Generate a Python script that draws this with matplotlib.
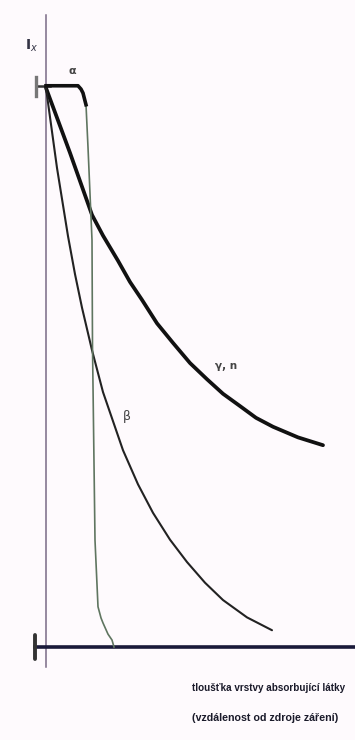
import matplotlib
matplotlib.use("Agg")
from matplotlib import pyplot as plt

# values (x = layer thickness, y = relative intensity I/I0)
alpha_x = [0, 32, 35, 37, 40, 42, 46, 46.5, 49, 52, 55, 57, 62, 66, 68]
alpha_y = [1.004, 1.004, 0.998, 0.991, 0.970, 0.894, 0.728, 0.537, 0.191, 0.072,
           0.052, 0.043, 0.023, 0.0125, 0.0]

beta_x = [0, 11, 22, 29, 36, 46, 57, 77, 92, 107, 124, 141, 159, 177, 201, 226]
beta_y = [1.0, 0.857, 0.735, 0.667, 0.607, 0.531, 0.456, 0.352, 0.291, 0.240,
          0.192, 0.152, 0.115, 0.084, 0.053, 0.030]

gamma_x = [0, 24, 46, 57, 72, 84, 96, 111, 127, 144, 161, 177, 194, 210, 227, 252, 277]
gamma_y = [1.0, 0.884, 0.773, 0.736, 0.691, 0.653, 0.621, 0.579, 0.544, 0.508,
           0.479, 0.453, 0.431, 0.410, 0.394, 0.375, 0.361]

W, H = 355, 740
fig = plt.figure(figsize=(W / 100, H / 100), dpi=100)
fig.patch.set_facecolor('#fefafd')
ax = fig.add_axes([46 / W, 93 / H, 309 / W, 559 / H])
ax.set_facecolor('none')
ax.set_xlim(0, 309)
ax.set_ylim(0, 1)
ax.axis('off')

# axes drawn by hand like in the sketch
ax.plot([0, 0], [-0.036, 1.13], color='#7a6a86', lw=1.1, clip_on=False)
ax.plot([-11, 309], [0, 0], color='#1a1a3a', lw=2.6, clip_on=False)
ax.plot([-11, -11], [-0.022, 0.022], color='#333333', lw=2.8, clip_on=False, solid_capstyle='round')
ax.plot([-10, 4], [1.004, 1.004], color='#333333', lw=1.8, clip_on=False)
ax.plot([-10, -10], [0.985, 1.02], color='#777777', lw=2.4, clip_on=False)

ax.plot(gamma_x, gamma_y, color='#111111', lw=2.7, clip_on=False,
        solid_capstyle='round', solid_joinstyle='round')
ax.plot(beta_x, beta_y, color='#222222', lw=1.5, clip_on=False,
        solid_capstyle='round', solid_joinstyle='round')
ax.plot(alpha_x[3:], alpha_y[3:], color='#5f7560', lw=1.2, clip_on=False,
        solid_joinstyle='round')
ax.plot(alpha_x[:5], alpha_y[:5], color='#111111', lw=2.6, clip_on=False,
        solid_joinstyle='round')

ax.text(-14, 1.075, 'I$_x$', fontsize=10, fontweight='bold', color='#333344', ha='center', va='center')
ax.text(26, 1.03, 'α', fontsize=8, fontweight='bold', color='#444444', ha='center', va='center')
ax.text(81, 0.412, 'β', fontsize=9, color='#444444', ha='center', va='center')
ax.text(180, 0.502, 'γ, n', fontsize=7.5, fontweight='bold', color='#444444', ha='center', va='center')

lbl_font = ['Liberation Sans', 'DejaVu Sans']
fig.text(192 / W, 1 - 688 / H, 'tloušťka vrstvy absorbující látky', fontsize=7.1,
         family=lbl_font, fontweight='bold', color='#1a1a2a', ha='left', va='center')
fig.text(192 / W, 1 - 718 / H, '(vzdálenost od zdroje záření)', fontsize=7.7,
         family=lbl_font, fontweight='bold', color='#1a1a2a', ha='left', va='center')

fig.savefig('out.png', dpi=100, facecolor=fig.get_facecolor())
